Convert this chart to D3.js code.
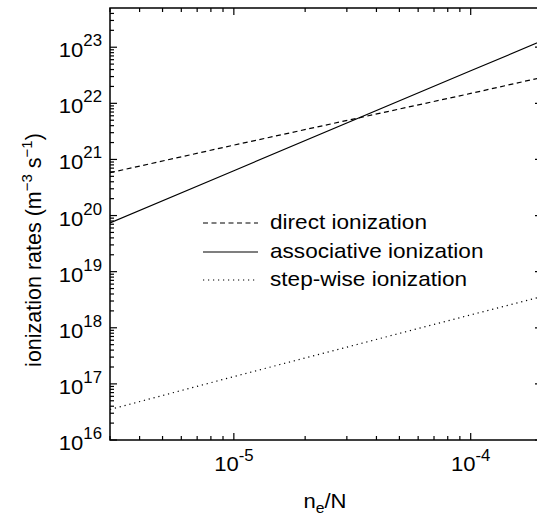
<!DOCTYPE html>
<html><head><meta charset="utf-8">
<script src="https://cdn.jsdelivr.net/npm/d3@7"></script>
<style>body{margin:0;background:#fff}svg{display:block}text{font-family:"Liberation Sans",Arial,sans-serif;fill:#000}</style>
</head><body><svg id="c" width="537" height="516"></svg>
<script>
const nx = [3e-6, 1e-5, 1e-4, 2e-4];
const direct = [5.8e20, 1.8e21, 1.5e22, 2.9e22];
const associative = [7.4e19, 6.3e20, 3.8e22, 1.3e23];
const stepwise = [3.5e16, 1.35e17, 1.7e18, 3.6e18];
const seriesNames = ["direct ionization", "associative ionization", "step-wise ionization"];
const xTickExp = [-5, -4];
const yTickExp = [16, 17, 18, 19, 20, 21, 22, 23];

const svg = d3.select("#c");
const L = 110, R = 542, T = 8, B = 440;
const x = d3.scaleLog().domain([3e-6, 2e-4]).range([L, R]);
const y = d3.scaleLog().domain([1e16, 5e23]).range([B, T]);

// ticks
const xMinor = [], yMinor = [];
for (let e = -6; e <= -4; e++) for (let m = 1; m <= 9; m++) { const v = m * Math.pow(10, e); if (v >= 3e-6 && v <= 2e-4) xMinor.push(v); }
for (let e = 16; e <= 23; e++) for (let m = 1; m <= 9; m++) { const v = m * Math.pow(10, e); if (v >= 1e16 && v <= 5e23) yMinor.push(v); }
const isMajor = v => Math.abs(Math.log10(v) - Math.round(Math.log10(v))) < 1e-9;

const ax = svg.append("g").attr("stroke", "#000").attr("stroke-width", 1.2);
xMinor.forEach(v => {
  const len = isMajor(v) ? 7 : 4, px = x(v);
  ax.append("line").attr("x1", px).attr("x2", px).attr("y1", B).attr("y2", B - len);
  ax.append("line").attr("x1", px).attr("x2", px).attr("y1", T).attr("y2", T + len);
});
yMinor.forEach(v => {
  const len = isMajor(v) ? 7 : 4, py = y(v);
  ax.append("line").attr("x1", L).attr("x2", L + len).attr("y1", py).attr("y2", py);
  ax.append("line").attr("x1", R).attr("x2", R - len).attr("y1", py).attr("y2", py);
});
svg.append("rect").attr("x", L).attr("y", T).attr("width", R - L).attr("height", B - T)
  .attr("fill", "none").attr("stroke", "#000").attr("stroke-width", 1.5);

// tick labels
yTickExp.forEach(e => {
  const t = svg.append("text").attr("transform", `translate(102,${y(Math.pow(10, e)) + 10}) scale(1.05,1)`)
    .attr("text-anchor", "end").attr("font-size", 21);
  t.append("tspan").text("10");
  t.append("tspan").attr("dy", -11).attr("font-size", 16).text(e);
});
xTickExp.forEach(e => {
  const t = svg.append("text").attr("transform", `translate(${x(Math.pow(10, e))},471) scale(1.05,1)`)
    .attr("text-anchor", "middle").attr("font-size", 21);
  t.append("tspan").text("10");
  t.append("tspan").attr("dy", -10).attr("font-size", 16).text(e);
});

// axis labels
const xl = svg.append("text").attr("transform", `translate(325,508) scale(1.05,1)`).attr("text-anchor", "middle").attr("font-size", 21);
xl.append("tspan").text("n");
xl.append("tspan").attr("dy", 5).attr("font-size", 15).text("e");
xl.append("tspan").attr("dy", -5).text("/N");

const yl = svg.append("text").attr("transform", "translate(41,250) rotate(-90)").attr("text-anchor", "middle").attr("font-size", 21.5);
yl.append("tspan").text("ionization rates (m");
yl.append("tspan").attr("dy", -9).attr("font-size", 15).text("−3");
yl.append("tspan").attr("dy", 9).text(" s");
yl.append("tspan").attr("dy", -9).attr("font-size", 15).text("−1");
yl.append("tspan").attr("dy", 9).text(")");

// lines
const styles = [
  { data: direct, dash: "5,3.5" },
  { data: associative, dash: null },
  { data: stepwise, dash: "1.2,3.8" }
];
const line = d3.line().x(d => x(d[0])).y(d => y(d[1]));
svg.append("clipPath").attr("id", "pc").append("rect").attr("x", L).attr("y", T).attr("width", R - L).attr("height", B - T);
styles.forEach(s => {
  svg.append("path").attr("clip-path", "url(#pc)").datum(nx.map((v, i) => [v, s.data[i]]))
    .attr("d", line).attr("fill", "none").attr("stroke", "#000").attr("stroke-width", 1.2)
    .attr("stroke-dasharray", s.dash);
});

// legend
const legY = [223, 252, 280];
seriesNames.forEach((n, i) => {
  svg.append("line").attr("x1", 203).attr("x2", 258).attr("y1", legY[i]).attr("y2", legY[i])
    .attr("stroke", "#000").attr("stroke-width", 1.2).attr("stroke-dasharray", styles[i].dash);
  svg.append("text").attr("transform", `translate(270,${legY[i] + 6}) scale(1.13,1)`).attr("font-size", 20).text(n);
});
</script></body></html>
